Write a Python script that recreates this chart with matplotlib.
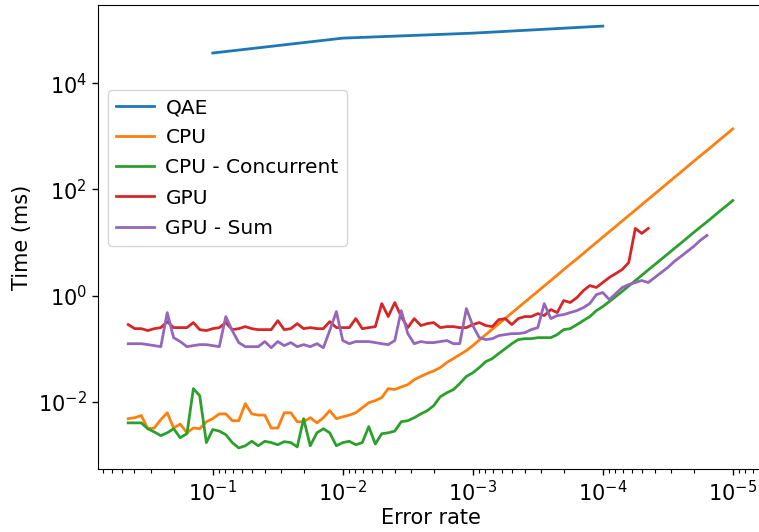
import matplotlib
matplotlib.use("Agg")
import matplotlib.pyplot as plt
from matplotlib.ticker import NullLocator

plt.rcParams['font.size'] = 15

# error rates used for the CPU / GPU sweeps (20 points per decade)
err_rate = [
    0.447, 0.398, 0.355, 0.316, 0.282, 0.251, 0.224, 0.200, 0.178, 0.158,
    0.141, 0.126, 0.112, 0.100,
    0.0891, 0.0794, 0.0708, 0.0631, 0.0562, 0.0501, 0.0447, 0.0398, 0.0355, 0.0316,
    0.0282, 0.0251, 0.0224, 0.0200, 0.0178, 0.0158, 0.0141, 0.0126, 0.0112, 0.0100,
    0.00891, 0.00794, 0.00708, 0.00631, 0.00562, 0.00501, 0.00447, 0.00398, 0.00355, 0.00316,
    0.00282, 0.00251, 0.00224, 0.00200, 0.00178, 0.00158, 0.00141, 0.00126, 0.00112, 0.00100,
    8.91e-4, 7.94e-4, 7.08e-4, 6.31e-4, 5.62e-4, 5.01e-4, 4.47e-4, 3.98e-4, 3.55e-4, 3.16e-4,
    2.82e-4, 2.51e-4, 2.24e-4, 2.00e-4, 1.78e-4, 1.58e-4, 1.41e-4, 1.26e-4, 1.12e-4, 1.00e-4,
    8.91e-5, 7.94e-5, 7.08e-5, 6.31e-5, 5.62e-5, 5.01e-5, 4.47e-5, 3.98e-5, 3.55e-5, 3.16e-5,
    2.82e-5, 2.51e-5, 2.24e-5, 2.00e-5, 1.78e-5, 1.58e-5, 1.41e-5, 1.26e-5, 1.12e-5, 1.00e-5,
]

# QAE was only run at four error rates
qae_err = [0.1, 0.01, 0.001, 0.0001]
qae_time = [37000, 70600, 87600, 119000]

# times in ms
cpu_time = [
    0.0048, 0.0050, 0.0055, 0.0031, 0.0032, 0.0046, 0.0062, 0.0032, 0.0038, 0.0026,
    0.0032, 0.0031, 0.0042, 0.0048,
    0.0059, 0.0059, 0.0044, 0.0044, 0.0092, 0.0059, 0.0056, 0.0056, 0.0032, 0.0032,
    0.0062, 0.0062, 0.0042, 0.0042, 0.0050, 0.0040, 0.0050, 0.0068, 0.0048, 0.0052,
    0.0056, 0.0062, 0.0077, 0.0096, 0.0105, 0.012, 0.0177, 0.017, 0.019, 0.021,
    0.026, 0.030, 0.034, 0.038, 0.044, 0.055, 0.065, 0.077, 0.092, 0.114,
    0.145, 0.184, 0.232, 0.294, 0.372, 0.470, 0.594, 0.752, 0.951, 1.20,
    1.52, 1.92, 2.43, 3.08, 3.89, 4.92, 6.22, 7.87, 9.95, 12.6,
    15.9, 20.1, 25.5, 32.2, 40.7, 51.5, 65.2, 82.4, 104, 132,
    167, 211, 267, 337, 427, 540, 682, 863, 1091, 1380,
]

cpu_conc_time = [
    0.0040, 0.0040, 0.0040, 0.0031, 0.0027, 0.0023, 0.0026, 0.0031, 0.0021, 0.0025,
    0.0177, 0.0130, 0.0017, 0.0030,
    0.0028, 0.0024, 0.0017, 0.00135, 0.00148, 0.0018, 0.00148, 0.0018, 0.0017, 0.00155,
    0.00177, 0.0017, 0.00141, 0.0048, 0.00148, 0.0026, 0.0031, 0.0026, 0.00148, 0.0017,
    0.0018, 0.00155, 0.0017, 0.0034, 0.0016, 0.0025, 0.0026, 0.0028, 0.0042, 0.0044,
    0.0050, 0.0059, 0.0068, 0.0084, 0.0124, 0.0148, 0.0169, 0.022, 0.030, 0.035,
    0.044, 0.057, 0.065, 0.081, 0.100, 0.124, 0.148, 0.154, 0.154, 0.161,
    0.161, 0.161, 0.184, 0.228, 0.238, 0.284, 0.338, 0.40, 0.52, 0.62,
    0.77, 0.96, 1.20, 1.52, 1.91, 2.41, 3.04, 3.83, 4.83, 6.09,
    7.68, 9.68, 12.2, 15.4, 19.4, 24.5, 30.8, 38.9, 49.0, 61.7,
]

gpu_time = [
    0.284, 0.238, 0.238, 0.219, 0.238, 0.249, 0.323, 0.249, 0.249, 0.249,
    0.31, 0.228, 0.219, 0.238,
    0.249, 0.31, 0.228, 0.238, 0.26, 0.238, 0.228, 0.228, 0.228, 0.337,
    0.228, 0.238, 0.296, 0.238, 0.249, 0.238, 0.238, 0.323, 0.249, 0.249,
    0.249, 0.368, 0.238, 0.249, 0.26, 0.706, 0.402, 0.738, 0.402, 0.249,
    0.368, 0.272, 0.296, 0.31, 0.249, 0.26, 0.26, 0.249, 0.249, 0.284,
    0.31, 0.272, 0.26, 0.352, 0.368, 0.284, 0.368, 0.402, 0.402, 0.457,
    0.42, 0.544, 0.478, 0.805, 0.74, 0.917, 1.24, 1.54, 1.42, 1.76,
    2.19, 2.60, 3.10, 4.20, 18.4, 14.8, 18.4,
]

gpu_sum_time = [
    0.124, 0.124, 0.124, 0.119, 0.114, 0.109, 0.478, 0.161, 0.136, 0.109,
    0.114, 0.119, 0.119, 0.114,
    0.109, 0.402, 0.219, 0.130, 0.109, 0.109, 0.109, 0.136, 0.104, 0.136,
    0.114, 0.130, 0.109, 0.119, 0.109, 0.124, 0.104, 0.219, 0.499, 0.142,
    0.124, 0.136, 0.136, 0.136, 0.130, 0.124, 0.119, 0.142, 0.521, 0.192,
    0.124, 0.136, 0.130, 0.130, 0.136, 0.142, 0.124, 0.124, 0.569, 0.272,
    0.161, 0.148, 0.154, 0.176, 0.184, 0.192, 0.192, 0.20, 0.228, 0.249,
    0.706, 0.368, 0.42, 0.438, 0.478, 0.521, 0.594, 0.706, 1.04, 1.14,
    0.84, 1.09, 1.42, 1.61, 1.76, 1.92, 1.76, 2.19, 2.72, 3.38,
    4.38, 5.44, 6.76, 8.41, 10.9, 13.6,
]

fig = plt.figure(figsize=(7.59, 5.32), dpi=100)
ax = fig.add_axes([98 / 759, 63 / 532, 665 / 759, 464 / 532])

lw = 2
ax.plot(qae_err, qae_time, label='QAE', lw=lw)
ax.plot(err_rate[:len(cpu_time)], cpu_time, label='CPU', lw=lw)
ax.plot(err_rate[:len(cpu_conc_time)], cpu_conc_time, label='CPU - Concurrent', lw=lw)
ax.plot(err_rate[:len(gpu_time)], gpu_time, label='GPU', lw=lw)
ax.plot(err_rate[:len(gpu_sum_time)], gpu_sum_time, label='GPU - Sum', lw=lw)

ax.set_xscale('log')
ax.set_yscale('log')
ax.invert_xaxis()

# y ticks every second decade, no minor ticks
ax.set_yticks([1e-2, 1e0, 1e2, 1e4])
ax.yaxis.set_minor_locator(NullLocator())

ax.tick_params(which='major', length=4.5, width=1)
ax.tick_params(which='minor', length=2.6, width=0.8)

ax.set_xlabel('Error rate', labelpad=2)
ax.set_ylabel('Time (ms)')
ax.legend(loc='upper left', bbox_to_anchor=(0, 0.838), fontsize=14.5,
          handlelength=1.9, handletextpad=0.55, labelspacing=0.55)

plt.savefig('out.png', dpi=100)
